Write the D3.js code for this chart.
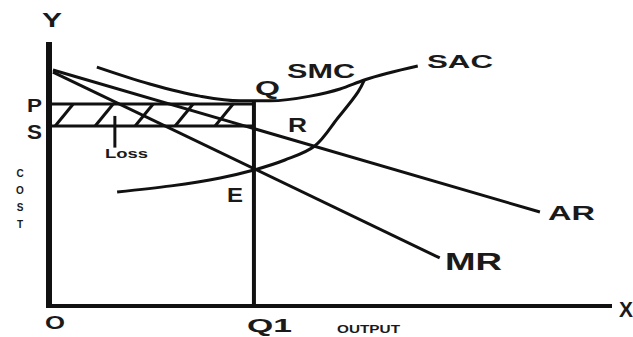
<!DOCTYPE html>
<html><head><meta charset="utf-8">
<script src="https://cdn.jsdelivr.net/npm/d3@7"></script>
<style>body{margin:0;background:#fff}svg{display:block}text{font-family:"Liberation Sans",Arial,sans-serif;font-weight:bold;fill:#1a1a1a}</style>
</head><body><svg id="c" width="633" height="337"></svg>
<script>
// Data (output units 0-100, cost units 0-100)
const arCurve = [[0.7, 89.4], [87.2, 35.6]];
const mrCurve = [[0.7, 88.6], [69.4, 18.2]];
const sacCurve = [[8.5, 90.5], [17.9, 84.1], [26.8, 79.5], [33.9, 77.7], [39.3, 77.7], [46.4, 79.5], [51.7, 82.2], [56.0, 85.6], [65.5, 90.9]];
const smcCurve = [[12.1, 43.2], [21.7, 45.5], [30.4, 48.5], [36.4, 51.5], [41.9, 55.3], [47.2, 60.6], [51.3, 71.2], [54.9, 81.1], [56.0, 85.6]];
const q1 = 36.4, priceP = 76.5, costS = 68.2;
const hatchStarts = [1.1, 8.2, 15.3, 22.4, 29.5];
const labelText = ["Y", "X", "P", "S", "O", "Q1", "OUTPUT", "Loss", "SMC", "SAC", "AR", "MR", "Q", "R", "E"];
const costLetters = ["C", "O", "S", "T"];

// Layout for labels: [x, baseline, width, font-size]
const labelLayout = {
  Y:[42,27,20,20], X:[619,317,14,22], P:[27,112,15,19], S:[27,139,15,20], O:[45,329,20,18],
  Q1:[247,332,45,19], OUTPUT:[337,333,63,10], Loss:[105,158,43,13], SMC:[287,78,68,21],
  SAC:[427,68,66,19], AR:[548,220,47,21], MR:[445,270,57,23], Q:[255,95,25,21], R:[288,132,19,21], E:[227,202,16,21]
};

const svg = d3.select("#c");
const x = d3.scaleLinear().domain([0, 100]).range([49, 612]);
const y = d3.scaleLinear().domain([0, 100]).range([306, 42]);
const line = d3.line().x(d => x(d[0])).y(d => y(d[1]));
const smooth = d3.line().x(d => x(d[0])).y(d => y(d[1])).curve(d3.curveMonotoneX);
const smoothC = d3.line().x(d => x(d[0])).y(d => y(d[1])).curve(d3.curveCatmullRom.alpha(0.5));

// hatch between P and S
const hatch = svg.append("g").attr("stroke", "#111").attr("stroke-width", 3);
hatchStarts.forEach(h => {
  hatch.append("line").attr("x1", x(h)).attr("y1", y(costS)).attr("x2", x(h + 3.2)).attr("y2", y(priceP));
});
// P and S lines
svg.append("line").attr("x1", x(0)).attr("x2", x(q1)).attr("y1", y(priceP)).attr("y2", y(priceP)).attr("stroke", "#111").attr("stroke-width", 3);
svg.append("line").attr("x1", x(0)).attr("x2", x(q1)).attr("y1", y(costS)).attr("y2", y(costS)).attr("stroke", "#111").attr("stroke-width", 3);

// curves
svg.append("path").attr("d", line(arCurve)).attr("fill", "none").attr("stroke", "#111").attr("stroke-width", 3);
svg.append("path").attr("d", line(mrCurve)).attr("fill", "none").attr("stroke", "#111").attr("stroke-width", 3);
svg.append("path").attr("d", smooth(sacCurve)).attr("fill", "none").attr("stroke", "#111").attr("stroke-width", 3);
svg.append("path").attr("d", smoothC(smcCurve)).attr("fill", "none").attr("stroke", "#111").attr("stroke-width", 3);

// Q1 vertical
svg.append("line").attr("x1", x(q1)).attr("x2", x(q1)).attr("y1", y(priceP) - 2).attr("y2", y(0)).attr("stroke", "#111").attr("stroke-width", 4);

// axes
svg.append("line").attr("x1", x(0)).attr("x2", x(0)).attr("y1", y(100)).attr("y2", y(0) + 2).attr("stroke", "#111").attr("stroke-width", 6);
svg.append("line").attr("x1", x(0)).attr("x2", x(100)).attr("y1", y(0)).attr("y2", y(0)).attr("stroke", "#111").attr("stroke-width", 4);

// loss pointer
svg.append("line").attr("x1", x(11.7)).attr("x2", x(11.7)).attr("y1", y(72)).attr("y2", y(60)).attr("stroke", "#111").attr("stroke-width", 3);

// labels
labelText.forEach(t => {
  const [lx, ly, w, fs] = labelLayout[t];
  svg.append("text").attr("x", lx).attr("y", ly).attr("font-size", fs)
    .attr("textLength", w).attr("lengthAdjust", "spacingAndGlyphs").text(t);
});
costLetters.forEach((c, i) => {
  svg.append("text").attr("x", 20).attr("y", 177 + i * 17).attr("text-anchor", "middle").attr("font-size", 10).text(c);
});
</script></body></html>
